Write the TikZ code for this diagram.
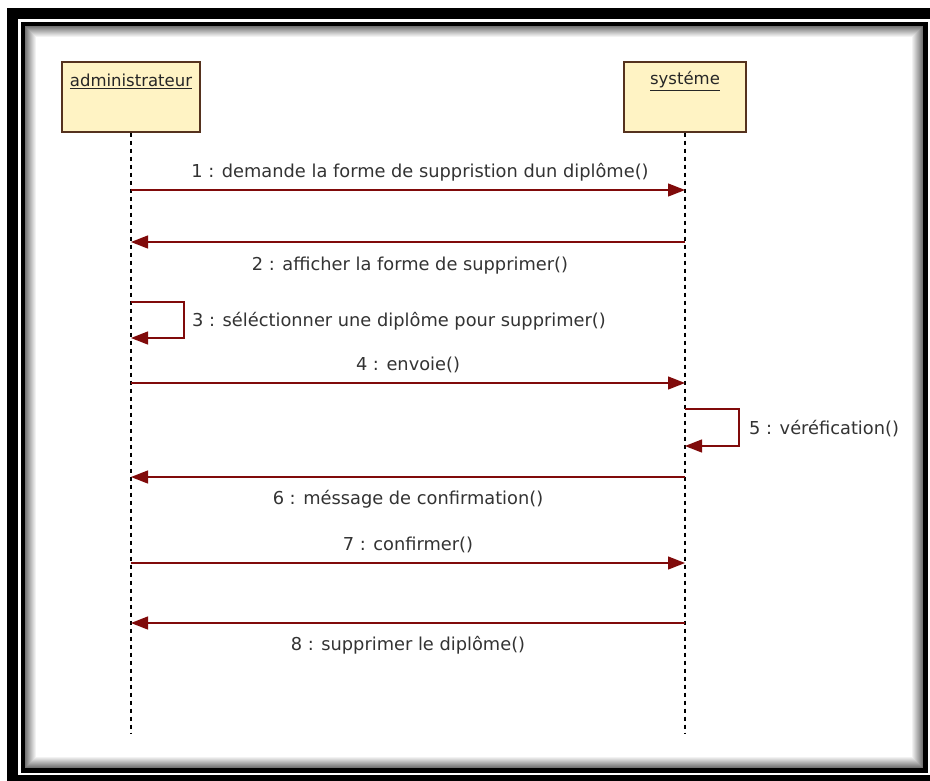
\documentclass[tikz,border=0pt]{standalone}
\usepackage{fontspec}
\setmainfont{DejaVu Sans}
\usetikzlibrary{arrows.meta}
\definecolor{msgcol}{RGB}{128,10,10}
\definecolor{boxfill}{RGB}{255,243,196}
\definecolor{boxline}{RGB}{85,50,30}
\begin{document}
\begin{tikzpicture}[x=1pt,y=-1pt,
  font=\fontsize{17.8}{20}\selectfont,
  actorbox/.style={draw=boxline, line width=1.3pt, fill=boxfill, minimum width=138pt, minimum height=70pt, inner sep=0pt},
  actorname/.style={inner sep=0pt, text=black!85, font=\fontsize{16.5}{19}\selectfont},
  lifeline/.style={draw=black, line width=1.2pt, dash pattern=on 4pt off 4pt},
  msgline/.style={draw=msgcol, line width=1.3pt, -{Triangle[length=17pt,width=13pt]}},
  lbl/.style={inner sep=0pt, text=black!80}]
\useasboundingbox (0,0) rectangle (930,780);
\clip (0,0) rectangle (930,780);
% frame
\fill[black] (7,8) rectangle (945,795);
\fill[white] (18,19) rectangle (935,775);
\fill[black] (21,22) rectangle (928,773);
\fill[white] (25,26) rectangle (923,768);
\foreach \i in {0,...,11} {
  \pgfmathsetmacro{\g}{int(55-5*\i)}
  \draw[black!\g, line width=1pt] (25.5+\i,26.5+\i) rectangle (922.5-\i,767.5-\i);
}
% actors
\node[actorbox] (adm) at (131,97) {};
\node[actorname] (admlbl) at (131,81) {\underline{administrateur}};
\node[actorbox, minimum width=122pt] (sys) at (685,97) {};
\node[actorname] (syslbl) at (685,81) {\underline{systéme}};
% lifelines
\coordinate (admend) at (131,733);
\coordinate (sysend) at (685,733);
\draw[lifeline] (adm.south) -- (admend);
\draw[lifeline] (sys.south) -- (sysend);
% message 1
\coordinate (m1a) at (131,190); \coordinate (m1b) at (685,190);
\draw[msgline] (m1a) -- (m1b);
\node[lbl] (l1) at (420,172) {1 : demande la forme de suppristion dun diplôme()};
% message 2
\coordinate (m2a) at (685,242); \coordinate (m2b) at (131,242);
\draw[msgline] (m2a) -- (m2b);
\node[lbl] (l2) at (410,266) {2 : afficher la forme de supprimer()};
% message 3 (self)
\coordinate (m3a) at (131,302); \coordinate (m3b) at (131,338);
\draw[msgline] (m3a) -- ++(53,0) |- (m3b);
\node[lbl, anchor=west] (l3) at (192,321) {3 : séléctionner une diplôme pour supprimer()};
% message 4
\coordinate (m4a) at (131,383); \coordinate (m4b) at (685,383);
\draw[msgline] (m4a) -- (m4b);
\node[lbl] (l4) at (408,365) {4 : envoie()};
% message 5 (self)
\coordinate (m5a) at (685,409); \coordinate (m5b) at (685,446);
\draw[msgline] (m5a) -- ++(54,0) |- (m5b);
\node[lbl, anchor=west] (l5) at (749,429) {5 : véréfication()};
% message 6
\coordinate (m6a) at (685,477); \coordinate (m6b) at (131,477);
\draw[msgline] (m6a) -- (m6b);
\node[lbl] (l6) at (408,499) {6 : méssage de confirmation()};
% message 7
\coordinate (m7a) at (131,563); \coordinate (m7b) at (685,563);
\draw[msgline] (m7a) -- (m7b);
\node[lbl] (l7) at (408,545) {7 : confirmer()};
% message 8
\coordinate (m8a) at (685,623); \coordinate (m8b) at (131,623);
\draw[msgline] (m8a) -- (m8b);
\node[lbl] (l8) at (408,645) {8 : supprimer le diplôme()};
\end{tikzpicture}
\end{document}
